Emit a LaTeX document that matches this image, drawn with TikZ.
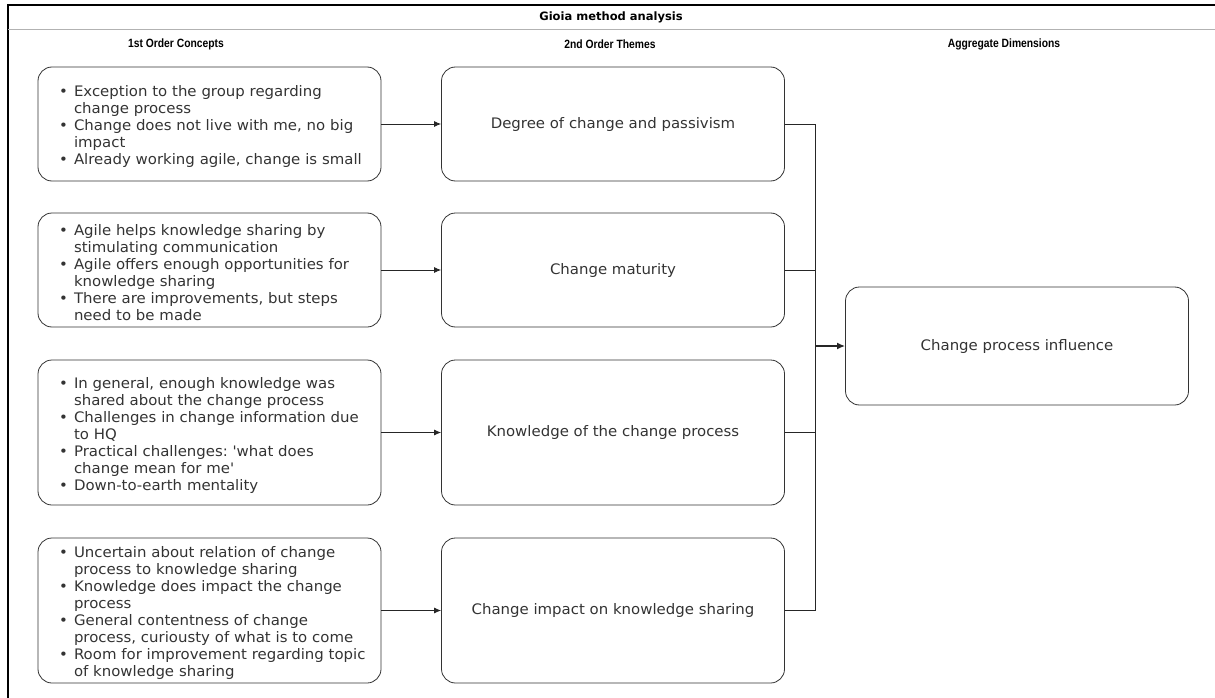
\documentclass[tikz,border=0pt]{standalone}
\usepackage{fontspec}
\setmainfont[FakeStretch=1.03]{DejaVu Sans}
\newfontfamily\titlefont{DejaVu Sans}
\newfontfamily\headfont[FakeStretch=0.86]{Liberation Sans}
\usepackage{enumitem}
\setlist[itemize]{nosep,leftmargin=22.5pt,labelsep=6pt,label={\textbullet}}
\usetikzlibrary{arrows.meta}
\frenchspacing

\begin{document}
\begin{tikzpicture}[
        x=1pt, y=-1pt,
        box/.style={
            draw=black!80, line width=0.8pt, rounded corners=14pt,
            minimum width=343pt, minimum height=#1, inner sep=0pt,
            text=black!80, font=\fontsize{14.5}{17}\selectfont,
        },
        box/.default=114pt,
        concept/.style={box=#1, text width=316pt, align=left},
        concept/.default=114pt,
        head/.style={font=\headfont\bfseries\fontsize{12}{14}\selectfont},
        link/.style={black!85, line width=0.8pt},
        arr/.style={link, -{Latex[length=7pt,width=6pt]}},
    ]
    \useasboundingbox (0,0) rectangle (1215,698);

    % frame
    \draw[line width=1.2pt] (1215,5) -- (8,5) -- (8,698);
    \draw[black!30, line width=1pt] (8,30) -- (1215,30);
    \node[font=\titlefont\bfseries\fontsize{11.5}{13}\selectfont] (title) at (611,17) {Gioia method analysis};
    \node[head] (h1) at (176,44) {1st Order Concepts};
    \node[head] (h2) at (610,44) {2nd Order Themes};
    \node[head] (h3) at (1004,44) {Aggregate Dimensions};

    % 1st order concepts
    \node[concept] (L1) at (209.5,124) {\begin{itemize}
        \item Exception to the group regarding\\change process
        \item Change does not live with me, no big\\impact
        \item Already working agile, change is small
        \end{itemize}};
    \node[concept] (L2) at (209.5,270) {\begin{itemize}
        \item Agile helps knowledge sharing by\\stimulating communication
        \item Agile offers enough opportunities for\\knowledge sharing
        \item There are improvements, but steps\\need to be made
        \end{itemize}};
    \node[concept=145pt] (L3) at (209.5,432.5) {\begin{itemize}
        \item In general, enough knowledge was\\shared about the change process
        \item Challenges in change information due\\to HQ
        \item Practical challenges: \textquotesingle what does\\change mean for me\textquotesingle
        \item Down-to-earth mentality
        \end{itemize}};
    \node[concept=145pt] (L4) at (209.5,610.5) {\begin{itemize}
        \item Uncertain about relation of change\\process to knowledge sharing
        \item Knowledge does impact the change\\process
        \item General contentness of change\\process, curiousty of what is to come
        \item Room for improvement regarding topic\\of knowledge sharing
        \end{itemize}};

    % 2nd order themes
    \node[box] (M1) at (613,124) {Degree of change and passivism};
    \node[box] (M2) at (613,270) {Change maturity};
    \node[box=145pt] (M3) at (613,432.5) {Knowledge of the change process};
    \node[box=145pt] (M4) at (613,610.5) {Change impact on knowledge sharing};

    % aggregate dimension
    \node[box=118pt] (R) at (1017,346) {Change process influence};
    \coordinate (join) at (815,346);

    \draw[arr] (L1) -- (M1);
    \draw[arr] (L2) -- (M2);
    \draw[arr] (L3) -- (M3);
    \draw[arr] (L4) -- (M4);

    \draw[link] (M1.east) -| (join);
    \draw[link] (M2.east) -| (join);
    \draw[link] (M3.east) -| (join);
    \draw[link] (M4.east) -| (join);
    \draw[link, line width=1.6pt, -{Latex[length=8pt,width=7pt]}] (join) -- (R);
\end{tikzpicture}
\end{document}
